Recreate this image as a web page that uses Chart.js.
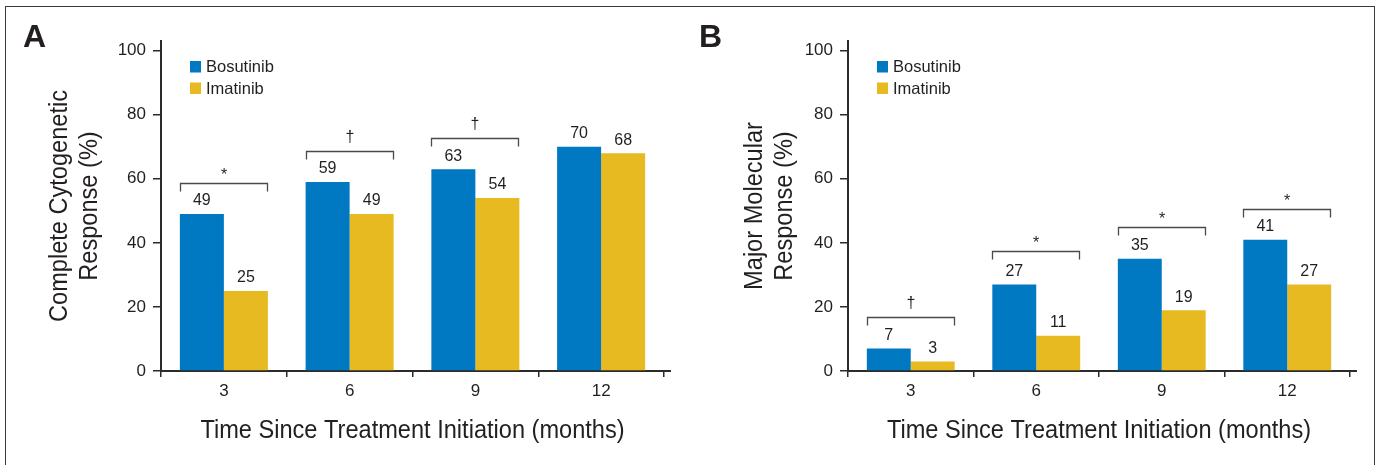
<!DOCTYPE html>
<html>
<head>
<meta charset="utf-8">
<script src="https://cdn.jsdelivr.net/npm/chart.js@4.4.0/dist/chart.umd.min.js"></script>
<style>
  body { margin: 0; background: #fff; }
  #wrap { position: relative; width: 1381px; height: 465px; overflow: hidden; background: #fff; }
  #wrap canvas { position: absolute; top: 0; }
  #frame { position: absolute; left: 5px; top: 6px; width: 1368px; height: 480px; border: 1.5px solid #3a3a3a; pointer-events: none; }
</style>
</head>
<body>
<div id="wrap">
  <canvas id="chartA" width="690" height="465" style="left:0"></canvas>
  <canvas id="chartB" width="691" height="465" style="left:690px"></canvas>
  <div id="frame"></div>
</div>
<script>
// months since start of treatment
const months = ['3', '6', '9', '12'];

// panel A: complete cytogenetic response (%)
const bosutinibCCyR = [49, 59, 63, 70];
const imatinibCCyR = [25, 49, 54, 68];
const signifCCyR = ['*', '†', '†', ''];
const bracketCCyR = [58.7, 68.7, 72.8, null];

// panel B: major molecular response (%)
const bosutinibMMR = [7, 27, 35, 41];
const imatinibMMR = [3, 11, 19, 27];
const signifMMR = ['†', '*', '*', '*'];
const bracketMMR = [17, 37.5, 45, 50.5];

const yTickValues = [0, 20, 40, 60, 80, 100];

const xTitle = 'Time Since Treatment Initiation (months)';

const blue = '#0079c2';
const yellow = '#e8ba22';
const ink = '#231f20';
const axisColor = '#2b2b2b';
const sans = '"Liberation Sans", Arial, sans-serif';
// no condensed face installed, so titles get squeezed sideways
const squeeze = 0.89;

const annotate = {
    id: 'annotate',
    afterDatasetsDraw(chart, args, opts) {
        const ctx = chart.ctx;
        const area = chart.chartArea;
        const y = chart.scales.y;
        ctx.save();

        // x axis line runs a bit past the last tick
        ctx.strokeStyle = axisColor;
        ctx.lineWidth = 2;
        ctx.beginPath();
        ctx.moveTo(area.right - 1, area.bottom);
        ctx.lineTo(area.right + 7, area.bottom);
        ctx.stroke();

        // value labels over the bars
        ctx.fillStyle = ink;
        ctx.font = '16px ' + sans;
        ctx.textAlign = 'center';
        ctx.textBaseline = 'middle';
        chart.data.datasets.forEach((ds, d) => {
            chart.getDatasetMeta(d).data.forEach((bar, i) => {
                ctx.fillText(ds.data[i], bar.x, bar.y - 13);
            });
        });

        // significance brackets
        const m0 = chart.getDatasetMeta(0).data;
        const m1 = chart.getDatasetMeta(1).data;
        ctx.strokeStyle = '#4a4a4a';
        ctx.lineWidth = 1.3;
        opts.brackets.forEach((level, i) => {
            if (level == null) return;
            const x0 = Math.round(m0[i].x - m0[i].width / 2) + 0.5;
            const x1 = Math.round(m1[i].x + m1[i].width / 2) - 0.5;
            const yy = Math.round(y.getPixelForValue(level)) + 0.5;
            ctx.beginPath();
            ctx.moveTo(x0, yy + 8);
            ctx.lineTo(x0, yy);
            ctx.lineTo(x1, yy);
            ctx.lineTo(x1, yy + 8);
            ctx.stroke();
            const s = opts.symbols[i];
            ctx.font = '16px ' + sans;
            ctx.fillText(s, (x0 + x1) / 2, s === '*' ? yy - 8 : yy - 14);
        });

        // legend, inside the plot
        const lx = area.left + 29;
        chart.data.datasets.forEach((ds, d) => {
            const top = area.top + 20 + d * 21.5;
            ctx.fillStyle = ds.backgroundColor;
            ctx.fillRect(lx, top, 11, 11.5);
            ctx.fillStyle = ink;
            ctx.textAlign = 'left';
            ctx.font = '16.5px ' + sans;
            ctx.fillText(ds.label, lx + 16, top + 6.5);
        });

        // axis titles
        ctx.font = '26.5px ' + sans;
        ctx.textAlign = 'center';
        ctx.textBaseline = 'alphabetic';
        ctx.save();
        ctx.translate((area.left + area.right) / 2, 438);
        ctx.scale(squeeze, 1);
        ctx.fillText(xTitle, 0, 0);
        ctx.restore();
        opts.yTitle.forEach((line, k) => {
            ctx.save();
            ctx.translate(opts.yTitleX + k * 29.5, (area.top + area.bottom) / 2);
            ctx.rotate(-Math.PI / 2);
            ctx.scale(squeeze, 1);
            ctx.fillText(line, 0, 0);
            ctx.restore();
        });

        // panel letter
        ctx.font = 'bold 32px ' + sans;
        ctx.textAlign = 'left';
        ctx.fillText(opts.letter, opts.letterX, 47);
        ctx.restore();
    }
};

function makePanel(canvasId, letter, letterX, yTitle, yTitleX, axisLeft, padRight, bos, ima, symbols, brackets) {
    return new Chart(document.getElementById(canvasId), {
        type: 'bar',
        data: {
            labels: months,
            datasets: [
                { label: 'Bosutinib', data: bos, backgroundColor: blue, borderWidth: 0 },
                { label: 'Imatinib', data: ima, backgroundColor: yellow, borderWidth: 0 }
            ]
        },
        options: {
            responsive: false,
            animation: false,
            categoryPercentage: 0.7,
            barPercentage: 1.0,
            layout: { padding: { top: 41, right: padRight, bottom: 0, left: 0 } },
            scales: {
                x: {
                    afterFit: s => { s.height = 94; },
                    ticks: { color: ink, font: { family: sans, size: 17 }, padding: 4 },
                    grid: { offset: true, drawOnChartArea: false, tickLength: 6, color: axisColor, lineWidth: 1.5 },
                    border: { color: axisColor, width: 2 }
                },
                y: {
                    min: 0,
                    max: 103,
                    afterBuildTicks: s => { s.ticks = yTickValues.map(v => ({ value: v })); },
                    afterFit: s => { s.width = axisLeft; },
                    ticks: { color: ink, font: { family: sans, size: 17 }, padding: 7 },
                    grid: { drawOnChartArea: false, tickLength: 8, color: axisColor, lineWidth: 1.5 },
                    border: { color: axisColor, width: 2 }
                }
            },
            plugins: {
                legend: { display: false },
                tooltip: { enabled: false },
                annotate: { letter: letter, letterX: letterX, yTitle: yTitle, yTitleX: yTitleX, symbols: symbols, brackets: brackets }
            }
        },
        plugins: [annotate]
    });
}

makePanel('chartA', 'A', 23, ['Complete Cytogenetic', 'Response (%)'], 67, 161, 26,
    bosutinibCCyR, imatinibCCyR, signifCCyR, bracketCCyR);
makePanel('chartB', 'B', 9, ['Major Molecular', 'Response (%)'], 72, 158, 31,
    bosutinibMMR, imatinibMMR, signifMMR, bracketMMR);
</script>
</body>
</html>
